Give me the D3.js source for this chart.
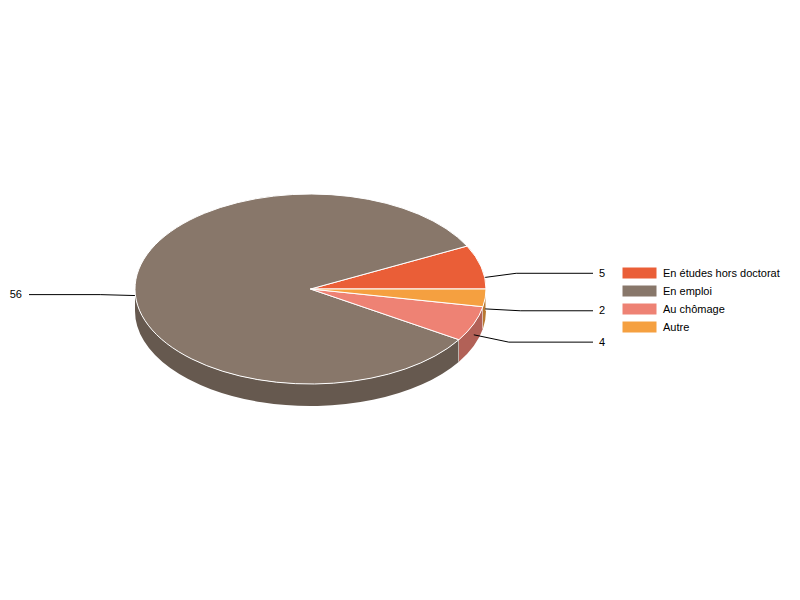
<!DOCTYPE html>
<html><head><meta charset="utf-8">
<script src="https://cdn.jsdelivr.net/npm/d3@7"></script>
<style>html,body{margin:0;padding:0;background:#fff}svg{display:block}text{font-family:"Liberation Sans",Arial,sans-serif;font-size:11px;fill:#000}</style>
</head><body><svg id="c" width="800" height="600"></svg>
<script>
const categories = ["En études hors doctorat","En emploi","Au chômage","Autre"];
const values = [5,56,4,2];
const colors = ["#EA5E37","#88776A","#EE8274","#F5A040"];
const sideColors = ["#B04629","#66594F","#B26157","#B87830"];

const cx = 310.5, cy = 289, rx = 175.5, ry = 95, depth = 22;
const svg = d3.select("#c");
const pie = d3.pie().sort(null).value(d => d.v).startAngle(Math.PI/2).endAngle(Math.PI/2 - 2*Math.PI);
const arcs = pie(categories.map((c,i)=>({c,v:values[i],i})));

const px = a => cx + rx*Math.sin(a);
const py = (a,off=0) => cy - ry*Math.cos(a) + off;

// side walls (only the front half of the ellipse is visible)
const lo = -3*Math.PI/2, hi = -Math.PI/2;
arcs.forEach(d=>{
  const a0 = Math.min(d.startAngle,hi), a1 = Math.max(d.endAngle,lo);
  if (a0 <= a1) return;
  const large = (a0-a1) > Math.PI ? 1 : 0;
  const p = `M${px(a0)},${py(a0)}A${rx},${ry} 0 ${large} 0 ${px(a1)},${py(a1)}`+
            `L${px(a1)},${py(a1,depth)}A${rx},${ry} 0 ${large} 1 ${px(a0)},${py(a0,depth)}Z`;
  svg.append("path").attr("d",p).attr("fill",sideColors[d.data.i]);
  svg.append("path").attr("d",`M${px(a1)},${py(a1)}L${px(a1)},${py(a1,depth)}`).attr("stroke","#fff").attr("stroke-width",1);
});

// leader lines and value labels
const leaderY = d3.scaleLinear().domain([-1,1]).range([cy+depth/2-115,cy+depth/2+115]);
const leader = d3.line();
arcs.forEach(d=>{
  const m = (d.startAngle+d.endAngle)/2;
  const right = Math.sin(m) >= 0;
  const sx = px(m), sy = py(m,depth/2);
  const ly = leaderY(-Math.cos(m));
  const bx = sx + (right?35:-35);
  const ex = right?593:29;
  svg.append("path").attr("d",leader([[sx,sy],[bx,ly],[ex,ly]])).attr("fill","none").attr("stroke","#000").attr("stroke-width",1);
  svg.append("text").attr("x",right?599:22).attr("y",ly+3.5)
     .attr("text-anchor",right?"start":"end").text(d.data.v);
});

// top face
const arcGen = d3.arc().innerRadius(0).outerRadius(rx);
svg.append("g").attr("transform",`translate(${cx},${cy}) scale(1,${ry/rx})`)
  .selectAll("path").data(arcs).join("path")
  .attr("d",arcGen).attr("fill",d=>colors[d.data.i])
  .attr("stroke","#fff").attr("stroke-width",1).attr("vector-effect","non-scaling-stroke");

// legend
const legendY = d3.scalePoint().domain(categories).range([273,327]);
const lg = svg.append("g").selectAll("g").data(categories).join("g");
lg.append("rect").attr("x",622).attr("y",c=>legendY(c)-6).attr("width",35).attr("height",12)
  .attr("fill",(c,i)=>colors[i]).attr("stroke","#fff").attr("stroke-width",1);
lg.append("text").attr("x",663).attr("y",c=>legendY(c)+3.5).text(c=>c);
</script></body></html>
